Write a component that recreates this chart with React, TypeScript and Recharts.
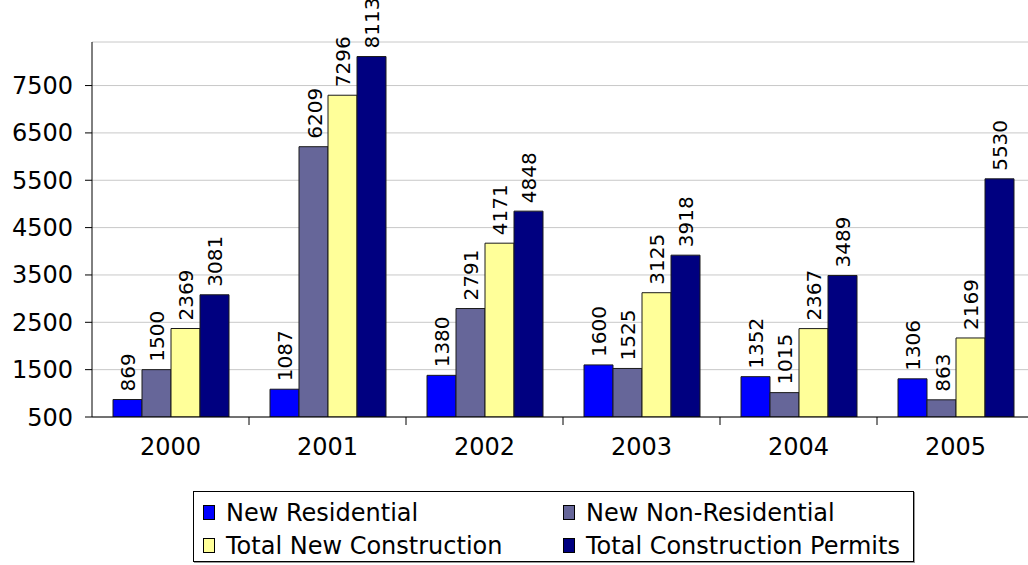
import { BarChart, Bar, XAxis, YAxis, CartesianGrid, Legend, LabelList } from "recharts";

const years = ["2000", "2001", "2002", "2003", "2004", "2005"];
const newResidential = [869, 1087, 1380, 1600, 1352, 1306];
const newNonResidential = [1500, 6209, 2791, 1525, 1015, 863];
const totalNewConstruction = [2369, 7296, 4171, 3125, 2367, 2169];
const totalPermits = [3081, 8113, 4848, 3918, 3489, 5530];
const yTicks = [500, 1500, 2500, 3500, 4500, 5500, 6500, 7500];

const series = [
  { key: "res", name: "New Residential", color: "#0000FF", values: newResidential },
  { key: "nonres", name: "New Non-Residential", color: "#666699", values: newNonResidential },
  { key: "total", name: "Total New Construction", color: "#FFFF99", values: totalNewConstruction },
  { key: "permits", name: "Total Construction Permits", color: "#000080", values: totalPermits },
];

const data = years.map((year, i) => {
  const row: Record<string, string | number> = { year };
  series.forEach((s) => (row[s.key] = s.values[i]));
  return row;
});

const W = 1060;
const H = 565;
const margin = { top: 42, right: 26, left: 22, bottom: 88 };
const yWidth = 70;
const plotW = W - margin.left - margin.right - yWidth;
const halfStep = plotW / years.length / 2;
const font = "'DejaVu Sans', Verdana, sans-serif";

function YearTick(props: any) {
  const { x, y, payload } = props;
  return (
    <g>
      <line x1={x + halfStep} x2={x + halfStep} y1={y} y2={y + 8} stroke="#000" />
      <text x={x} y={y + 38} textAnchor="middle" fontSize={24} fontFamily={font} fill="#000">
        {payload.value}
      </text>
    </g>
  );
}

function ValueLabel(props: any) {
  const { x, y, width, value } = props;
  const cx = x + width / 2 + 1;
  const ty = y - 8;
  return (
    <text
      x={cx}
      y={ty}
      transform={`rotate(-90 ${cx} ${ty})`}
      textAnchor="start"
      dominantBaseline="central"
      fontSize={20}
      fontFamily={font}
      fill="#000"
    >
      {value}
    </text>
  );
}

function LegendBox() {
  return (
    <div
      style={{
        width: 721,
        height: 71,
        border: "1px solid #000",
        boxShadow: "1px 1px 0 #999",
        background: "#fff",
        display: "grid",
        gridTemplateColumns: "360px 359px",
        gridTemplateRows: "33px 33px",
        paddingTop: 4,
        boxSizing: "border-box",
        fontFamily: font,
        fontSize: 24,
        color: "#000",
      }}
    >
      {series.map((s) => (
        <div key={s.key} style={{ display: "flex", alignItems: "center", paddingLeft: 9 }}>
          <span
            style={{
              display: "inline-block",
              width: 10,
              height: 13,
              background: s.color,
              border: "1px solid #000",
              marginRight: 11,
            }}
          />
          <span style={{ whiteSpace: "nowrap" }}>{s.name}</span>
        </div>
      ))}
    </div>
  );
}

export default function App() {
  return (
    <div style={{ position: "fixed", left: 0, top: 0, width: 1028, height: 565, overflow: "hidden", background: "#fff" }}>
      <BarChart width={W} height={H} data={data} margin={margin} barGap={0} barCategoryGap={21}>
        <CartesianGrid vertical={false} stroke="#c8c8c8" />
        <XAxis
          dataKey="year"
          tick={<YearTick />}
          tickLine={false}
          tickSize={0}
          tickMargin={0}
          height={60}
          axisLine={{ stroke: "#000" }}
          interval={0}
        />
        <XAxis xAxisId="top" dataKey="year" orientation="top" height={0} tick={false} tickLine={false} axisLine={{ stroke: "#000" }} />
        <YAxis
          width={yWidth}
          domain={[500, 8420]}
          ticks={yTicks}
          allowDataOverflow
          tickSize={7}
          tickMargin={12}
          axisLine={{ stroke: "#000" }}
          tickLine={{ stroke: "#000" }}
          tick={{ fontSize: 24, fontFamily: font, fill: "#000" }}
        />
        <Legend
          layout="horizontal"
          verticalAlign="middle"
          align="center"
          content={<LegendBox />}
          wrapperStyle={{ position: "absolute", left: 193, top: 491, width: 723, height: 73 }}
        />
        {series.map((s) => (
          <Bar key={s.key} dataKey={s.key} name={s.name} fill={s.color} stroke="#1a1a1a" strokeWidth={1} isAnimationActive={false}>
            <LabelList dataKey={s.key} content={<ValueLabel />} />
          </Bar>
        ))}
      </BarChart>
    </div>
  );
}
